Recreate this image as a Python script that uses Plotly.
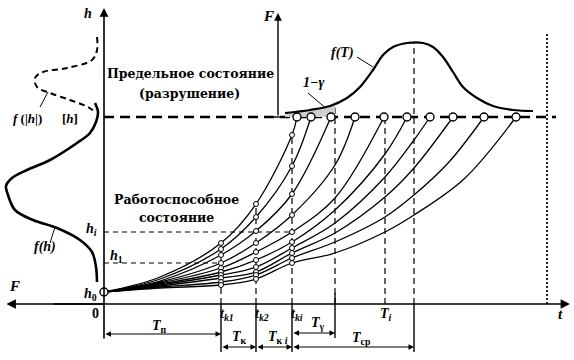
import numpy as np
import plotly.graph_objects as go

# ---------------- data (schematic units: t to the right, h upward) ----------------
h0 = 12          # initial state
h_lim = 187      # limit state [h]
h_i = 72
h_1 = 41
t_k = [117, 152, 188]        # t_k1, t_k2, t_ki
t_k_labels = ["k1", "k2", "ki"]
T_gamma_end = 231
T_i = 281
T_cp_end = 310
t_dotted = 443

# degradation curves: heights at control moments, end time at [h]
curve_end_t = [193, 207, 227, 251, 280, 303, 326, 349, 380, 412]
h_at_56 = [27, 25, 23, 22, 21, 20, 19, 18, 17, 16]
h_at_tk1 = [61, 55, 49, 41, 36, 32, 29, 26, 22, 19]
h_at_tk2 = [100, 87, 73, 61, 52, 44, 37, 32, 29, 25]
h_at_tki = [169, 138, 110, 89, 72, 62, 56, 51, 46, 41]
h_at_231 = [None, None, None, 139, 106, 94, 81, 71, 62, 51]
h_at_281 = [None, None, None, None, None, 150, 127, 107, 87, 72]
h_at_310 = [None, None, None, None, None, None, 164, 136, 109, 89]
h_at_345 = [None, None, None, None, None, None, None, None, 142, None]
h_at_360 = [None, None, None, None, None, None, None, None, None, 125]

# f(h): density of initial/working state (drawn to the left, F axis)
f_h_F = [9, 6, 8, 14, 27, 54, 77, 92, 98, 96, 89, 71, 47, 24, 12, 8, 7]
f_h_h = [201, 192, 182, 171, 161, 144, 134, 126, 118, 109, 94, 84, 76, 64, 52, 37, 22]
# f([h]): density of the limit value
f_lim_F = [7, 7, 12, 37, 61, 69, 67, 54, 34, 16, 9]
f_lim_h = [267, 254, 244, 236, 232, 226, 217, 211, 204, 197, 192]
# f(T): density of time to failure
fT_t = [181, 206, 226, 243, 256, 269, 279, 289, 303, 319, 329, 339, 349, 359, 373, 389, 409, 429]
fT_F = [4, 7, 11, 19, 30, 47, 62, 70, 74, 74, 70, 60, 45, 30, 19, 11, 7, 6]
F_axis_t = 174

SERIF = "DejaVu Serif"
TIMES = "Liberation Serif"

fig = go.Figure()


def seg(x0, y0, x1, y1, w=1.2, dash="solid"):
    fig.add_shape(type="line", x0=x0, y0=y0, x1=x1, y1=y1, layer="below",
                  line=dict(color="black", width=w, dash=dash))


def arrow(x0, y0, x1, y1, w=1.3, both=False, head=2, size=1.0):
    fig.add_annotation(x=x1, y=y1, ax=x0, ay=y0, xref="x", yref="y", axref="x", ayref="y",
                       text="", showarrow=True, arrowhead=head, arrowsize=size,
                       arrowwidth=w, arrowcolor="black", standoff=0, startstandoff=0,
                       arrowside="end+start" if both else "end", startarrowhead=head,
                       startarrowsize=size)


def label(x, y, txt, size=14, family=TIMES, anchor="center"):
    fig.add_annotation(x=x, y=y, xref="x", yref="y", text=txt, showarrow=False,
                       font=dict(family=family, size=size, color="black"), xanchor=anchor,
                       yanchor="middle")


# ---------------- dashed reference lines ----------------
seg(0, h_lim, 452, h_lim, w=2.6, dash="10px,6px")
seg(0, h_i, t_k[2], h_i, w=1, dash="5px,4px")
seg(0, h_1, t_k[0], h_1, w=1, dash="5px,4px")
seg(t_k[0], 0, t_k[0], h_at_tk1[0], w=1.2, dash="6px,4px")
seg(t_k[1], 0, t_k[1], h_at_tk2[0], w=1.2, dash="6px,4px")
seg(t_k[2], 0, t_k[2], h_at_tki[0], w=1.2, dash="6px,4px")
seg(T_gamma_end, 0, T_gamma_end, 197, w=1.2, dash="6px,4px")
seg(T_i, 0, T_i, h_lim, w=1.2, dash="6px,4px")
seg(T_cp_end, 0, T_cp_end, 261, w=1.2, dash="6px,4px")
seg(t_dotted, 0, t_dotted, 272, w=1.7, dash="2px,2px")

# ticks below t axis
for tt in t_k + [T_cp_end]:
    seg(tt, 0, tt, -48, w=1.4)
seg(T_gamma_end, 11, T_gamma_end, -34, w=1.4)

# ---------------- shaded 1-gamma region ----------------
fT_t_arr = np.array(fT_t, float)
fT_F_arr = np.array(fT_F, float)
mask = fT_t_arr <= T_gamma_end
edge_F = float(np.interp(T_gamma_end, fT_t_arr, fT_F_arr))
sx = list(fT_t_arr[mask]) + [T_gamma_end, T_gamma_end, fT_t_arr[0]]
sy = list(h_lim + fT_F_arr[mask]) + [h_lim + edge_F, h_lim, h_lim]
fig.add_trace(go.Scatter(x=sx, y=sy, fill="toself", fillcolor="#cfcfcf", mode="none",
                         hoverinfo="skip"))

# ---------------- degradation curves ----------------
extra = [(231, h_at_231), (281, h_at_281), (310, h_at_310), (345, h_at_345), (360, h_at_360)]
for i in range(len(curve_end_t)):
    ts = [0, 56, t_k[0], t_k[1], t_k[2]]
    hs = [h0, h_at_56[i], h_at_tk1[i], h_at_tk2[i], h_at_tki[i]]
    for tt, arr in extra:
        if arr[i] is not None:
            ts.append(tt)
            hs.append(arr[i])
    ts.append(curve_end_t[i])
    hs.append(h_lim)
    fig.add_trace(go.Scatter(x=ts, y=hs, mode="lines", line=dict(color="black", width=1.3,
                                                                  shape="spline", smoothing=1.0),
                             hoverinfo="skip"))

# markers at control moments
mx, my = [], []
for j, arr in enumerate([h_at_tk1, h_at_tk2, h_at_tki]):
    mx += [t_k[j]] * len(arr)
    my += arr
fig.add_trace(go.Scatter(x=mx, y=my, mode="markers",
                         marker=dict(size=5, color="white", line=dict(color="black", width=1))))
fig.add_trace(go.Scatter(x=curve_end_t, y=[h_lim] * len(curve_end_t), mode="markers",
                         marker=dict(size=8, color="white", line=dict(color="black", width=1.4))))
fig.add_trace(go.Scatter(x=[0], y=[h0], mode="markers",
                         marker=dict(size=8, color="white", line=dict(color="black", width=1.4))))

# ---------------- distributions ----------------
fig.add_trace(go.Scatter(x=[-v for v in f_h_F], y=f_h_h, mode="lines",
                         line=dict(color="black", width=2.6, shape="spline")))
fig.add_trace(go.Scatter(x=[-v for v in f_lim_F], y=f_lim_h, mode="lines",
                         line=dict(color="black", width=2, dash="6px,4px", shape="spline")))
fig.add_trace(go.Scatter(x=fT_t, y=[h_lim + v for v in fT_F], mode="lines",
                         line=dict(color="black", width=2.2, shape="spline")))

# ---------------- axes ----------------
arrow(0, -36, 0, 296, w=1.6, size=1.1)                 # h axis
arrow(-99, 0, 466, 0, w=1.7, both=True, size=1.1)      # t axis + F to the left
seg(-50, 0, 0, 0, w=1.7)
arrow(F_axis_t, h_lim, F_axis_t, 291, w=1.4, size=1.1)  # F axis for f(T)
seg(F_axis_t - 7, h_lim, F_axis_t + 7, h_lim, w=1.4)

# dimension arrows
arrow(0, -30, t_k[0], -30, w=1.1, both=True, size=1.0)
arrow(t_k[0], -43, t_k[1], -43, w=1.1, both=True, size=1.0)
arrow(t_k[1], -43, t_k[2], -43, w=1.1, both=True, size=1.0)
arrow(t_k[2], -29, T_gamma_end, -29, w=1.1, both=True, size=1.0)
arrow(t_k[2], -43, T_cp_end, -43, w=1.1, both=True, size=1.0)

# leaders
seg(-64, 197, -56, 212, w=1)
seg(-54, 61, -49, 77, w=1)
seg(253, 247, 269, 237, w=1)
seg(204, 211, 224, 194, w=1)

# ---------------- labels ----------------
B = lambda s: "<b><i>" + s + "</i></b>"
label(-16, 291, B("h"), 14)
label(-90, 18, B("F"), 15)
label(164, 288, B("F"), 15)
label(-9, -9, "<b>0</b>", 14)
label(456, -10, B("t"), 15)
for tt, sub in zip(t_k, t_k_labels):
    label(tt - 3, -10, B("t") + "<sub><b><i>" + sub + "</i></b></sub>", 14, anchor="left")
label(T_i + 1, -10, B("T") + "<sub><b><i>i</i></b></sub>", 14)
label(55, -22, B("T") + "<sub><b>п</b></sub>", 14)
label(135, -33, B("T") + "<sub><b>к</b></sub>", 14)
label(174, -33, B("T") + "<sub><b>к<i> i</i></b></sub>", 14)
label(214, -19, B("T") + "<sub><b>γ</b></sub>", 14)
label(257, -34, B("T") + "<sub><b>ср</b></sub>", 14)

label(-13, 75, B("h") + "<sub><b><i>i</i></b></sub>", 14)
label(12, 48, B("h") + "<sub><b>1</b></sub>", 14)
label(-14, 10, B("h") + "<sub><b>0</b></sub>", 14)
label(-34, 186, "<b>[<i>h</i>]</b>", 13)
label(-77, 186, B("f") + "<b> (|<i>h</i>|)</b>", 13)
label(-59, 57, B("f(h)"), 14)
label(238, 251, B("f(T)"), 14)
label(209, 222, B("1−γ"), 14)

label(86, 231, "<b>Предельное состояние</b>", 12.5, family=SERIF)
label(85, 211, "<b>(разрушение)</b>", 12.5, family=SERIF)
label(72, 105, "<b>Работоспособное</b>", 12.5, family=SERIF)
label(72, 87, "<b>состояние</b>", 12.5, family=SERIF)

fig.update_layout(width=574, height=360, margin=dict(l=0, r=0, t=0, b=0),
                  paper_bgcolor="white", plot_bgcolor="white", showlegend=False,
                  xaxis=dict(range=[-104, 470], visible=False, fixedrange=True),
                  yaxis=dict(range=[-56, 304], visible=False, fixedrange=True))
fig.write_html("out.html")
